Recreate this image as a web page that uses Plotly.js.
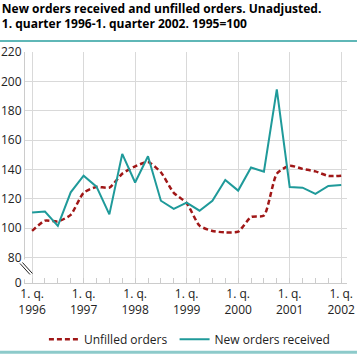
<!DOCTYPE html>
<html>
<head>
<meta charset="utf-8">
<script src="https://cdn.plot.ly/plotly-3.0.1.min.js"></script>
<style>html,body{margin:0;padding:0;background:#fff;}#chart{width:357px;height:354px;}</style>
</head>
<body>
<div id="chart"></div>
<script>
// Quarters 1996 Q1 .. 2002 Q1
const quarters = ["1996Q1","1996Q2","1996Q3","1996Q4","1997Q1","1997Q2","1997Q3","1997Q4",
  "1998Q1","1998Q2","1998Q3","1998Q4","1999Q1","1999Q2","1999Q3","1999Q4",
  "2000Q1","2000Q2","2000Q3","2000Q4","2001Q1","2001Q2","2001Q3","2001Q4","2002Q1"];
const unfilledOrders = [98,105,104.5,109,124,128,127.5,137,142,145,138,124,117,101.6,98,97,
  97.5,107.5,108.5,137,142.5,140.3,138.6,135.5,135.7];
const newOrdersReceived = [110.5,111.2,101.4,124.3,135.7,128.2,109.3,150.5,131,148.9,118.6,113,117.3,111.8,118.6,132.8,
  125.5,141.2,138.4,194.5,128,127.5,123.2,128.7,129.3];
const yTickVals = [62.5,80,100,120,140,160,180,200,220];
const yTickText = ["0","80","100","120","140","160","180","200","220"];
const xTickVals = [0,4,8,12,16,20,24];
const xTickText = ["1. q.<br>1996","1. q.<br>1997","1. q.<br>1998","1. q.<br>1999","1. q.<br>2000","1. q.<br>2001","1. q.<br>2002"];

const xIdx = quarters.map((q,i)=>i);
const font = "Open Sans, DejaVu Sans, sans-serif";

const traces = [
  {x:xIdx, y:unfilledOrders, text:quarters, type:"scatter", mode:"lines", name:"Unfilled orders",
   legend:"legend",
   line:{color:"#a01717", width:2.5, dash:"5px,3px", shape:"spline", smoothing:0.6}},
  {x:xIdx, y:newOrdersReceived, text:quarters, type:"scatter", mode:"lines", name:"New orders received",
   legend:"legend2",
   line:{color:"#1f9a9a", width:2}}
];

const legendBase = {orientation:"h", xanchor:"left", xref:"container", yref:"container", y:0.042, yanchor:"middle",
  font:{family:font, size:12, color:"#222"}, bgcolor:"rgba(0,0,0,0)"};

const layout = {
  width:357, height:354,
  margin:{l:25, r:10, t:52, b:71, autoexpand:false},
  paper_bgcolor:"#fff", plot_bgcolor:"#fff",
  font:{family:font, size:12, color:"#222"},
  title:{text:"<b>New orders received and unfilled orders. Unadjusted.<br>1. quarter 1996-1. quarter 2002. 1995=100</b>",
    x:0.005, xanchor:"left", xref:"container", y:0.964, yanchor:"top", yref:"container",
    font:{family:font, size:12, color:"#000"}},
  xaxis:{range:[-0.55,24.45], tickmode:"array", tickvals:xTickVals, ticktext:xTickText,
    showgrid:true, gridcolor:"#d9d9d9", gridwidth:1, zeroline:false,
    showline:true, linecolor:"#cccccc", linewidth:1, ticks:"",
    minor:{tickmode:"linear", tick0:0, dtick:1, ticks:"inside", ticklen:5, tickcolor:"#cccccc", showgrid:false},
    tickfont:{family:font, size:12, color:"#222"}, fixedrange:true},
  yaxis:{range:[62.5,220], tickmode:"array", tickvals:yTickVals, ticktext:yTickText,
    showgrid:true, gridcolor:"#d9d9d9", gridwidth:1, zeroline:false,
    showline:true, linecolor:"#cccccc", linewidth:1, ticks:"",
    tickfont:{family:font, size:12, color:"#222"}, fixedrange:true},
  showlegend:true,
  legend:Object.assign({}, legendBase, {x:0.123}),
  legend2:Object.assign({}, legendBase, {x:0.489}),
  shapes:[
    {type:"line", xref:"paper", yref:"paper", x0:-0.0776, x1:1.031, y0:1.0476, y1:1.0476, line:{color:"#5fb7b7", width:2}},
    {type:"line", xref:"paper", yref:"paper", x0:-0.0776, x1:1.031, y0:-0.3, y1:-0.3, line:{color:"#8ccaca", width:3}},
    {type:"line", xref:"paper", yref:"y", x0:0, x1:0, y0:65, y1:78.5, line:{color:"#fff", width:3}},
    {type:"line", xref:"paper", yref:"y", x0:-0.0155, x1:0.0155, y0:75.8, y1:68.3, line:{color:"#222", width:1}},
    {type:"line", xref:"paper", yref:"y", x0:-0.008, x1:0.023, y0:76.5, y1:69, line:{color:"#222", width:1}}
  ]
};

Plotly.newPlot("chart", traces, layout, {displayModeBar:false, staticPlot:true});
</script>
</body>
</html>
